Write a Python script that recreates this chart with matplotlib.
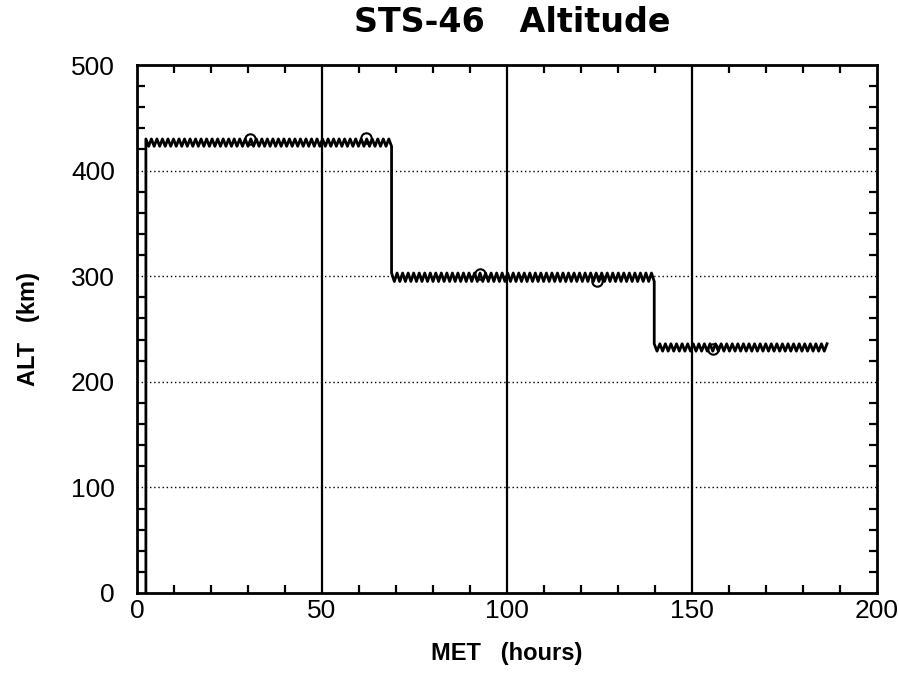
import numpy as np
import matplotlib
matplotlib.use("Agg")
import matplotlib.pyplot as plt
from matplotlib.ticker import MultipleLocator

# Mission profile: burn times (h), per-phase perigee/apogee (km)
phase_start = [2.4, 68.8, 139.8]
phase_end = [68.8, 139.8, 186.5]
perigee_km = [423, 295, 229]
apogee_km = [430, 303, 236]
orbit_period_h = 1.5

# Tracking measurements
obs_met = [30.5, 61.8, 92.8, 124.3, 155.7]
obs_alt = [430, 431, 302, 295, 231]

x_ticks = [0, 50, 100, 150, 200]
y_ticks = [0, 100, 200, 300, 400, 500]

# Build altitude trace: launch climb then per-orbit swing between perigee and apogee
met = [phase_start[0]]
alt = [0.0]
for t0, t1, lo, hi in zip(phase_start, phase_end, perigee_km, apogee_km):
    half = orbit_period_h / 2
    n = int(round((t1 - t0) / half))
    for k in range(n + 1):
        met.append(t0 + k * (t1 - t0) / n)
        alt.append(hi if k % 2 == 0 else lo)

tick_font = ["Liberation Sans Narrow", "Liberation Sans", "DejaVu Sans"]
bold_font = ["Liberation Sans", "DejaVu Sans"]

fig = plt.figure(figsize=(8.99, 6.73), dpi=100)
ax = fig.add_axes([0.1524, 0.1189, 0.8231, 0.7845])

ax.set_xlim(0, 200)
ax.set_ylim(0, 500)

# Grid: solid verticals, dotted horizontals
for xv in [50, 100, 150]:
    ax.axvline(xv, color="black", lw=1.6, zorder=1)
for yv in [100, 200, 300, 400]:
    ax.axhline(yv, color="black", lw=1.0, ls=(0, (1, 2)), zorder=1)

ax.plot(met, alt, color="black", lw=2.0, zorder=3)
ax.plot(obs_met, obs_alt, ls="none", marker="o", ms=7.5, mfc="none",
        mec="black", mew=1.5, zorder=4)

ax.set_xticks(x_ticks)
ax.set_yticks(y_ticks)
ax.xaxis.set_minor_locator(MultipleLocator(10))
ax.yaxis.set_minor_locator(MultipleLocator(20))
ax.tick_params(which="both", direction="in", top=True, right=True,
               width=1.6, color="black")
ax.tick_params(which="major", length=0)
ax.tick_params(axis="y", which="major", pad=16)
ax.tick_params(axis="x", which="major", pad=4)
ax.tick_params(which="minor", length=6)
for lbl in ax.get_xticklabels() + ax.get_yticklabels():
    lbl.set_fontfamily(tick_font)
    lbl.set_fontsize(19)
for s in ax.spines.values():
    s.set_linewidth(2.0)

ax.set_title("STS-46   Altitude", fontsize=24, fontweight="bold",
             family=["DejaVu Sans"], pad=24, x=0.507)
ax.set_xlabel("MET   (hours)", fontsize=17, fontweight="bold",
              family=bold_font, labelpad=14)
ax.set_ylabel("ALT   (km)", fontsize=17, fontweight="bold",
              family=bold_font, labelpad=22)

fig.savefig("out.png", dpi=100)
